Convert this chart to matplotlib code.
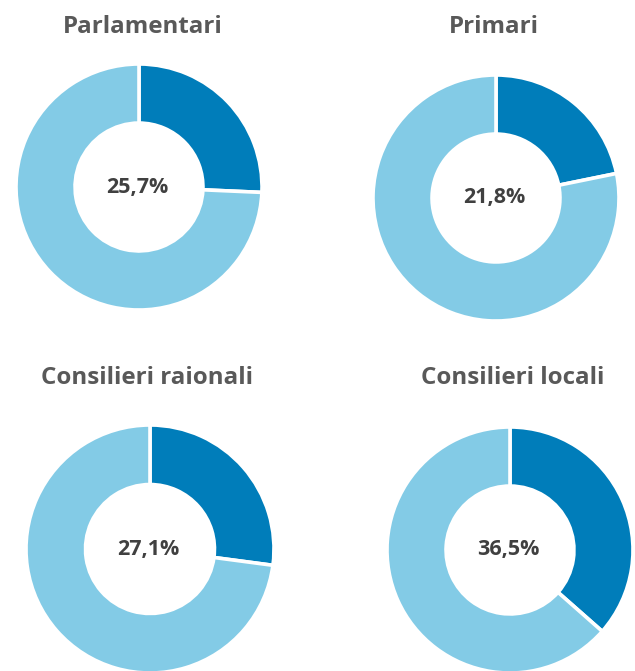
import matplotlib
matplotlib.use("Agg")
import matplotlib.pyplot as plt

# Share of women among elected officials, by office
titles = ["Parlamentari", "Primari", "Consilieri raionali", "Consilieri locali"]
women_pct = [25.7, 21.8, 27.1, 36.5]
pct_labels = ["25,7%", "21,8%", "27,1%", "36,5%"]

DARK = "#007DBA"
LIGHT = "#83CBE6"
TITLE_COLOR = "#595959"
LABEL_COLOR = "#404040"

W, H = 635, 671
fig = plt.figure(figsize=(W / 100, H / 100), dpi=100)
fig.patch.set_facecolor("white")

# centre (px, from top-left), outer radius (px), title centre (px)
layout = [
    ((139, 187), 123, (143, 27)),
    ((496, 198), 123, (494, 27)),
    ((150, 549), 124, (147, 378)),
    ((510, 550), 123, (513, 378)),
]

for title, pct, lab, ((cx, cy), r, (tx, ty)) in zip(titles, women_pct, pct_labels, layout):
    ax = fig.add_axes([(cx - r) / W, (H - cy - r) / H, 2 * r / W, 2 * r / H])
    ax.pie([pct, 100 - pct], colors=[DARK, LIGHT], startangle=90, counterclock=False,
           radius=1.0, wedgeprops=dict(width=0.48, edgecolor="white", linewidth=2.6))
    ax.set_xlim(-1, 1)
    ax.set_ylim(-1, 1)
    ax.set_aspect("equal")
    ax.axis("off")
    ax.text(-0.01, 0, lab, ha="center", va="center", fontsize=15.5, fontweight="bold",
            color=LABEL_COLOR, family=["Open Sans", "DejaVu Sans"])
    fig.text(tx / W, 1 - ty / H, title, ha="center", va="center", fontsize=17.4,
             fontweight="bold", color=TITLE_COLOR, family=["Open Sans", "DejaVu Sans"])

fig.savefig("out.png", dpi=100, facecolor="white")
